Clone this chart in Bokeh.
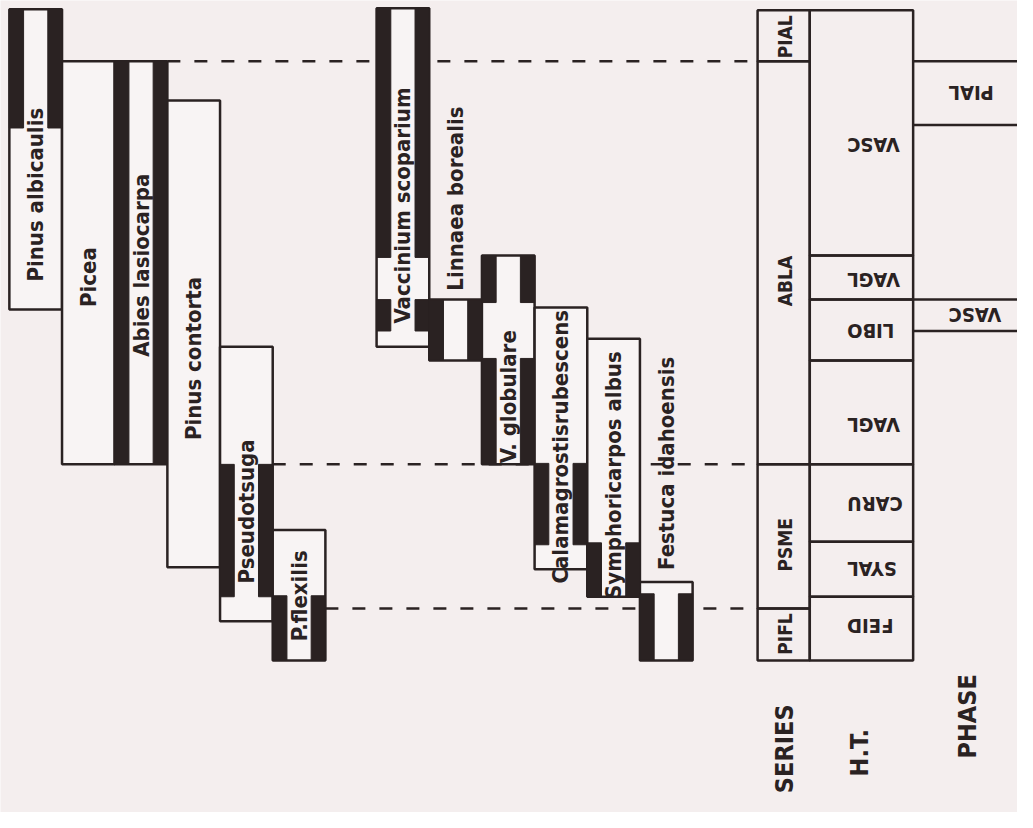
import math
from bokeh.plotting import figure
from bokeh.models import Range1d
from bokeh.core.properties import value
from bokeh.embed import file_html
from bokeh.resources import INLINE

# ---------------- data (gradient units: top = cold/moist, bottom = warm/dry) ----------------
tree_names = ["Pinus albicaulis", "Picea", "Abies lasiocarpa", "Pinus contorta", "Pseudotsuga", "P.flexilis"]
tree_top = [9, 62, 62, 102, 353, 540]
tree_bottom = [315, 473, 473, 578, 633, 673]
tree_climax = [[(9, 130)], [], [(62, 473)], [], [(473, 608)], [(607, 673)]]
tree_label_mid = [198, 282, 270, 365, 521, 607]

herb_names = ["Vaccinium scoparium", "Linnaea borealis", "V. globulare",
              "Calamagrostisrubescens", "Symphoricarpos albus", "Festuca idahoensis"]
herb_top = [8, 305, 260, 313, 345, 593]
herb_bottom = [353, 367, 473, 580, 608, 673]
herb_climax = [[(8, 262), (305, 337)], [(305, 367)], [(260, 308), (365, 473)],
               [(472, 555)], [(553, 608)], [(605, 673)]]
herb_label_mid = [209, 202, 404, 455, 484, 472]

series_names = ["PIAL", "ABLA", "PSME", "PIFL"]
series_bounds = [10, 62, 473, 620, 673]
series_label_mid = [37, 286, 555, 646]
ht_names = ["VASC", "VAGL", "LIBO", "VAGL", "CARU", "SYAL", "FEID"]
ht_bounds = [10, 260, 305, 367, 473, 552, 608, 673]
ht_label_mid = [147, 285, 337, 433, 513, 580, 638]
phase_names = ["PIAL", "VASC"]
phase_top = [62, 305]
phase_bottom = [127, 337]
series_limits = [62, 473, 620]
series_limit_species = [2, 4, 5]   # tree whose climax zone ends at each limit
column_titles = ["SERIES", "H.T.", "PHASE"]

# ---------------- layout / style ----------------
BG = "#f4eeee"
BOX = "#f8f4f4"
INK = "#2a2222"
FONT = value("'DejaVu Sans Condensed', 'Liberation Sans Narrow', 'Roboto', sans-serif")
TREE_X0, HERB_X0, COL_W = 9.0, 382.0, 53.5
BAND = 0.27
SER_X = (769, 822)
HT_X = (822, 927)
PH_X = (927, 1040)

p = figure(width=1017, height=812, x_range=Range1d(0, 1033), y_range=Range1d(828, 0),
           output_backend="svg", toolbar_location=None, min_border=0,
           x_axis_location=None, y_axis_location=None,
           background_fill_color=BG, border_fill_color=BG, outline_line_color=None)
p.grid.visible = False

def col_left(x0, i):
    return x0 + COL_W * i

# dashed series limits
seg_x0 = [col_left(TREE_X0, i) + COL_W for i in series_limit_species]
p.segment(x0=seg_x0, y0=series_limits, x1=[SER_X[0]] * len(series_limits), y1=series_limits,
          line_color=INK, line_width=2.5, line_dash="13 14")

def draw_group(x0, names, tops, bottoms, climax, mids):
    L, R = [], []
    for i in range(len(names)):
        L.append(col_left(x0, i)); R.append(col_left(x0, i) + COL_W)
    p.quad(left=L, right=R, top=tops, bottom=bottoms, fill_color=BOX, line_color=INK, line_width=2.5)
    bl, br, bt, bb = [], [], [], []
    for i, segs in enumerate(climax):
        l = col_left(x0, i)
        for (a, b) in segs:
            bl += [l, l + COL_W * (1 - BAND)]
            br += [l + COL_W * BAND, l + COL_W]
            bt += [a, a]
            bb += [b, b]
    p.quad(left=bl, right=br, top=bt, bottom=bb, fill_color=INK, line_color=INK, line_width=1)
    xs = [col_left(x0, i) + COL_W / 2 for i in range(len(names))]
    p.text(x=xs, y=mids, text=names, angle=math.pi / 2, text_align="center",
           text_baseline="middle", text_font=FONT, text_font_style="bold",
           text_font_size="22px", text_color=INK)

draw_group(TREE_X0, tree_names, tree_top, tree_bottom, tree_climax, tree_label_mid)
draw_group(HERB_X0, herb_names, herb_top, herb_bottom, herb_climax, herb_label_mid)

# ---------------- table: series / habitat type / phase ----------------
p.quad(left=[SER_X[0]] * len(series_names), right=[SER_X[1]] * len(series_names),
       top=series_bounds[:-1], bottom=series_bounds[1:], fill_color=None,
       line_color=INK, line_width=2.5)
p.text(x=[(SER_X[0] + SER_X[1]) / 2 + 1] * len(series_names), y=series_label_mid,
       text=series_names, angle=math.pi / 2, text_align="center", text_baseline="middle",
       text_font=FONT, text_font_style="bold", text_font_size="19px", text_color=INK)

p.quad(left=[HT_X[0]] * len(ht_names), right=[HT_X[1]] * len(ht_names),
       top=ht_bounds[:-1], bottom=ht_bounds[1:], fill_color=None,
       line_color=INK, line_width=2.5)
p.text(x=[HT_X[0] + 38] * len(ht_names), y=ht_label_mid,
       text=ht_names, angle=math.pi, text_align="right", text_baseline="middle",
       text_font=FONT, text_font_style="bold", text_font_size="20px", text_color=INK)

p.segment(x0=[PH_X[0]] * 2 * len(phase_names), x1=[PH_X[1]] * 2 * len(phase_names),
          y0=phase_top + phase_bottom, y1=phase_top + phase_bottom,
          line_color=INK, line_width=2.5)
p.text(x=[PH_X[0] + 36] * len(phase_names),
       y=[(a + b) / 2 for a, b in zip(phase_top, phase_bottom)],
       text=phase_names, angle=math.pi, text_align="right", text_baseline="middle",
       text_font=FONT, text_font_style="bold", text_font_size="20px", text_color=INK)

p.text(x=[796, 873, 982], y=[763, 767, 730], text=column_titles, angle=math.pi / 2,
       text_align="center", text_baseline="middle", text_font=FONT,
       text_font_style="bold", text_font_size="25px", text_color=INK)

open("out.html", "w").write(file_html(p, INLINE))
